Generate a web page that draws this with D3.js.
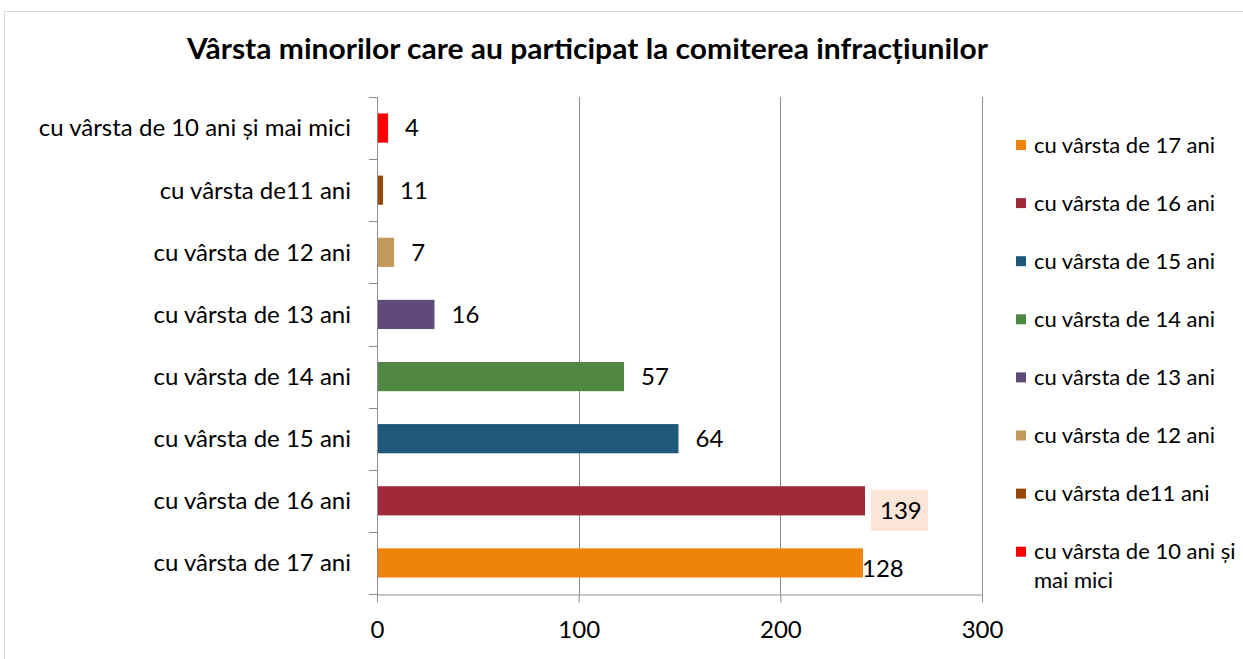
<!DOCTYPE html>
<html>
<head>
<meta charset="utf-8">
<script src="https://cdn.jsdelivr.net/npm/d3@7"></script>
<style>
  body { margin: 0; background: #fff; }
  svg text { font-family: Lato, "Open Sans", sans-serif; fill: #000; }
</style>
</head>
<body>
<div id="chart"></div>
<script>
// categories, top to bottom as drawn
const categories = [
  'cu vârsta de 10 ani și mai mici',
  'cu vârsta de11 ani',
  'cu vârsta de 12 ani',
  'cu vârsta de 13 ani',
  'cu vârsta de 14 ani',
  'cu vârsta de 15 ani',
  'cu vârsta de 16 ani',
  'cu vârsta de 17 ani'
]
// bar lengths as drawn in the original (they do not match the printed labels)
const barValues = [5, 2.5, 8, 28, 122, 149, 241.5, 240.5]
// numbers printed next to the bars
const labelValues = [4, 11, 7, 16, 57, 64, 139, 128]
const colors = ['#ff0000', '#974706', '#c4995c', '#604a7b', '#4f8743', '#1f587a', '#a0293a', '#ef830c']
const xTicks = [0, 100, 200, 300]

const width = 1243
const height = 659

const svg = d3.select('#chart')
  .append('svg')
  .attr('width', width)
  .attr('height', height)

// chart border
svg.append('rect')
  .attr('x', 4.5).attr('y', 11.5)
  .attr('width', 1260).attr('height', 700)
  .attr('fill', '#fff')
  .attr('stroke', '#d9d9d9')

svg.append('text')
  .attr('x', 187).attr('y', 59)
  .attr('textLength', 801)
  .attr('lengthAdjust', 'spacingAndGlyphs')
  .style('font-size', '29px')
  .style('font-weight', 'bold')
  .text('Vârsta minorilor care au participat la comiterea infracțiunilor')

const x = d3.scaleLinear().domain([0, 300]).range([377, 982])
const y = d3.scaleBand().domain(categories).range([97, 594])
  .paddingInner(0.53).paddingOuter(0.265)

// vertical gridlines
svg.append('g')
  .selectAll('line')
  .data(xTicks.slice(1))
  .enter()
  .append('line')
  .attr('x1', d => Math.round(x(d)) + 0.5)
  .attr('x2', d => Math.round(x(d)) + 0.5)
  .attr('y1', 97).attr('y2', 594)
  .style('stroke', '#8c8c8c')

// x axis
const xAxis = svg.append('g')
  .attr('transform', 'translate(0,594.5)')
  .call(d3.axisBottom(x).tickValues(xTicks).tickSizeInner(8).tickSizeOuter(0).tickPadding(18))
xAxis.select('.domain').attr('stroke', '#8c8c8c')
xAxis.selectAll('.tick line').attr('stroke', '#8c8c8c')
xAxis.selectAll('.tick text').style('font-size', '24px').style('font-family', 'Lato, sans-serif')

// y axis line with ticks on category boundaries
const step = y.step()
const boundaries = d3.range(categories.length + 1).map(i => 97 + i * step)
svg.append('line')
  .attr('x1', 377.5).attr('x2', 377.5)
  .attr('y1', 97).attr('y2', 602)
  .style('stroke', '#8c8c8c')
svg.append('g')
  .selectAll('line')
  .data(boundaries)
  .enter()
  .append('line')
  .attr('x1', 369).attr('x2', 377)
  .attr('y1', d => Math.round(d) + 0.5)
  .attr('y2', d => Math.round(d) + 0.5)
  .style('stroke', '#8c8c8c')

// category labels
svg.append('g')
  .selectAll('text')
  .data(categories)
  .enter()
  .append('text')
  .attr('x', 351)
  .attr('y', d => y(d) + y.bandwidth() / 2)
  .attr('dy', '0.35em')
  .attr('text-anchor', 'end')
  .style('font-size', '24px')
  .text(d => d)

// bars
svg.append('g')
  .selectAll('rect')
  .data(categories)
  .enter()
  .append('rect')
  .attr('x', x(0) + 1)
  .attr('y', d => y(d))
  .attr('width', (d, i) => x(barValues[i]) - x(0))
  .attr('height', y.bandwidth())
  .style('fill', (d, i) => colors[i])

// value labels
const labels = svg.append('g')
  .selectAll('g')
  .data(categories)
  .enter()
  .append('g')
  .attr('transform', (d, i) => {
    const last = i === categories.length - 1
    const gap = last ? 0 : (i === 6 ? 16 : 18)
    const dy = last ? 6 : (i === 6 ? 10 : 0)
    return `translate(${x(barValues[i]) + gap},${y(d) + y.bandwidth() / 2 + dy})`
  })

labels.filter((d, i) => i === 6)
  .append('rect')
  .attr('x', -9).attr('y', -21)
  .attr('width', 57).attr('height', 41)
  .style('fill', '#fbe5d6')

labels.append('text')
  .attr('dy', '0.35em')
  .style('font-size', '24px')
  .text((d, i) => labelValues[i])

// legend, reversed order
const legendItems = categories.slice().reverse()
const legend = svg.append('g')
  .selectAll('g')
  .data(legendItems)
  .enter()
  .append('g')
  .attr('transform', (d, i) => `translate(1016,${145 + i * 58.1})`)

legend.append('rect')
  .attr('x', 0).attr('y', -5)
  .attr('width', 10).attr('height', 10)
  .style('fill', d => colors[categories.indexOf(d)])

legend.append('text')
  .style('font-size', '22px')
  .each(function (d) {
    // wrap the long label the way the original does
    const parts = d === categories[0] ? ['cu vârsta de 10 ani și', 'mai mici'] : [d]
    d3.select(this).selectAll('tspan')
      .data(parts)
      .enter()
      .append('tspan')
      .attr('x', 18)
      .attr('dy', (p, j) => j === 0 ? '0.35em' : '1.3em')
      .text(p => p)
  })
</script>
</body>
</html>
